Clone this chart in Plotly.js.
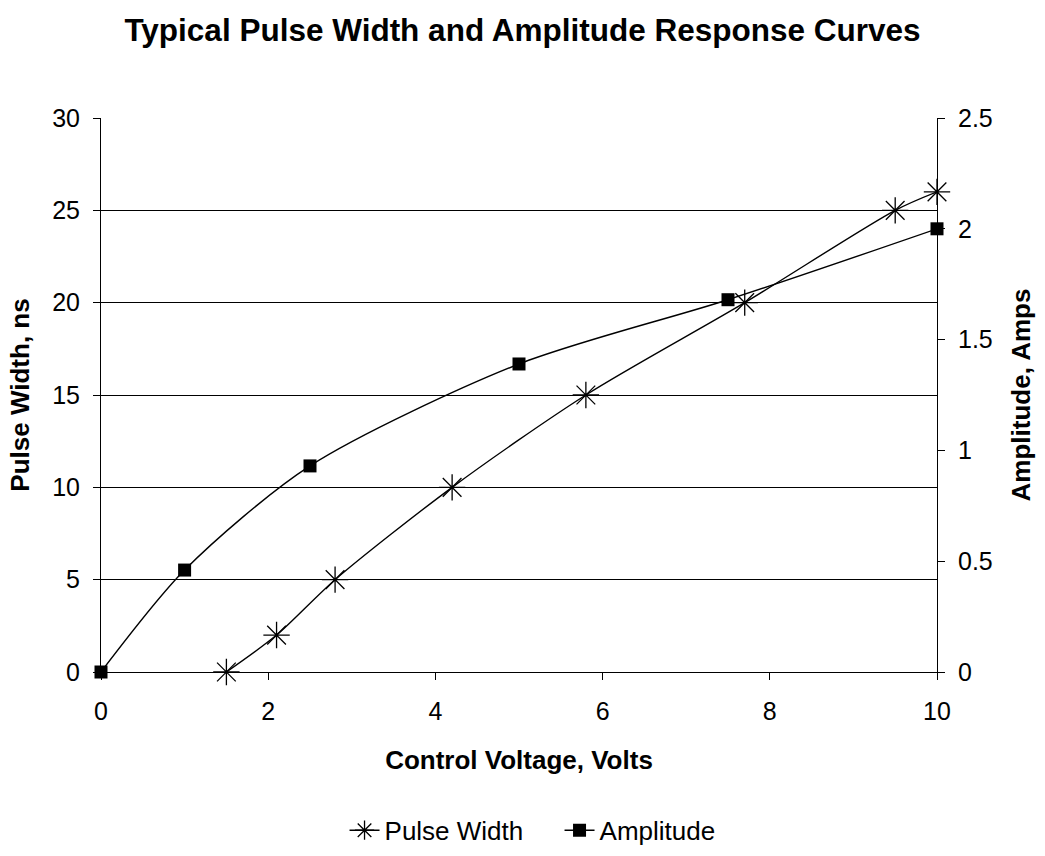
<!DOCTYPE html>
<html><head><meta charset="utf-8">
<script src="https://cdn.plot.ly/plotly-3.0.1.min.js"></script>
<style>body{margin:0;background:#fff}#chart{width:1045px;height:856px}</style>
</head><body><div id="chart"></div>
<script>
const pwVolts = [1.5, 2.1, 2.8, 4.2, 5.8, 7.7, 9.5, 10];
const pwNs = [0, 2, 5, 10, 15, 20, 25, 26];
const ampVolts = [0, 1, 2.5, 5, 7.5, 10];
const ampAmps = [0, 0.46, 0.93, 1.39, 1.68, 2.0];
const leftTicks = [0, 5, 10, 15, 20, 25, 30];
const rightTicks = [0, 0.5, 1, 1.5, 2, 2.5];
const xTicks = [0, 2, 4, 6, 8, 10];

const font = {family: 'Liberation Sans, Arial, sans-serif', color: '#000'};
const traces = [
  {x: pwVolts, y: pwNs, name: 'Pulse Width', type: 'scatter', mode: 'lines+markers',
   line: {color: '#000', width: 1.4, shape: 'spline', smoothing: 0.8},
   marker: {symbol: 'asterisk-open', size: 22, color: '#000', line: {color: '#000', width: 1.3}},
   yaxis: 'y', cliponaxis: false},
  {x: ampVolts, y: ampAmps, name: 'Amplitude', type: 'scatter', mode: 'lines+markers',
   line: {color: '#000', width: 1.4, shape: 'spline', smoothing: 0.8},
   marker: {symbol: 'square', size: 13, color: '#000'},
   yaxis: 'y2', cliponaxis: false}
];
const layout = {
  width: 1045, height: 856,
  paper_bgcolor: '#fff', plot_bgcolor: '#fff',
  margin: {l: 101, r: 108, t: 118, b: 184},
  font: Object.assign({size: 25}, font),
  title: {text: '<b>Typical Pulse Width and Amplitude Response Curves</b>', x: 0.5, xanchor: 'center', y: 0.965, yanchor: 'middle', font: Object.assign({}, font, {size: 31.5})},
  xaxis: {range: [0, 10], tickvals: xTicks, ticktext: xTicks.map(String), showgrid: false, zeroline: false, automargin: false,
    showline: true, linecolor: '#000', linewidth: 1, ticks: 'outside', ticklen: 7, tickcolor: '#000', ticklabelstandoff: 10,
    tickfont: Object.assign({}, font, {size: 25}),
    title: {text: '<b>Control Voltage, Volts</b>', standoff: 26, font: Object.assign({}, font, {size: 26})}},
  yaxis: {range: [0, 30], tickvals: leftTicks, ticktext: leftTicks.map(String), showgrid: true, gridcolor: '#000', gridwidth: 1, automargin: false,
    zeroline: false, showline: true, linecolor: '#000', linewidth: 1, ticks: 'outside', ticklen: 7, tickcolor: '#000', ticklabelstandoff: 8,
    tickfont: Object.assign({}, font, {size: 25}),
    title: {text: '<b>Pulse Width, ns</b>', standoff: 15, font: Object.assign({}, font, {size: 26})}},
  yaxis2: {range: [0, 2.5], tickvals: rightTicks, ticktext: rightTicks.map(String), overlaying: 'y', side: 'right', automargin: false,
    showgrid: false, zeroline: false, showline: true, linecolor: '#000', linewidth: 1, ticks: 'outside', ticklen: 7, tickcolor: '#000', ticklabelstandoff: 8,
    tickfont: Object.assign({}, font, {size: 25}),
    title: {text: '<b>Amplitude, Amps</b>', standoff: 20, font: Object.assign({}, font, {size: 26})}},
  legend: {orientation: 'h', xref: 'container', yref: 'container', x: 0.3297, xanchor: 'left', y: 0.030, yanchor: 'middle',
    font: Object.assign({}, font, {size: 26}), entrywidth: 170, entrywidthmode: 'pixels',
    traceorder: 'normal'},
  showlegend: true
};
Plotly.newPlot('chart', traces, layout, {displayModeBar: false, staticPlot: true});
</script></body></html>
